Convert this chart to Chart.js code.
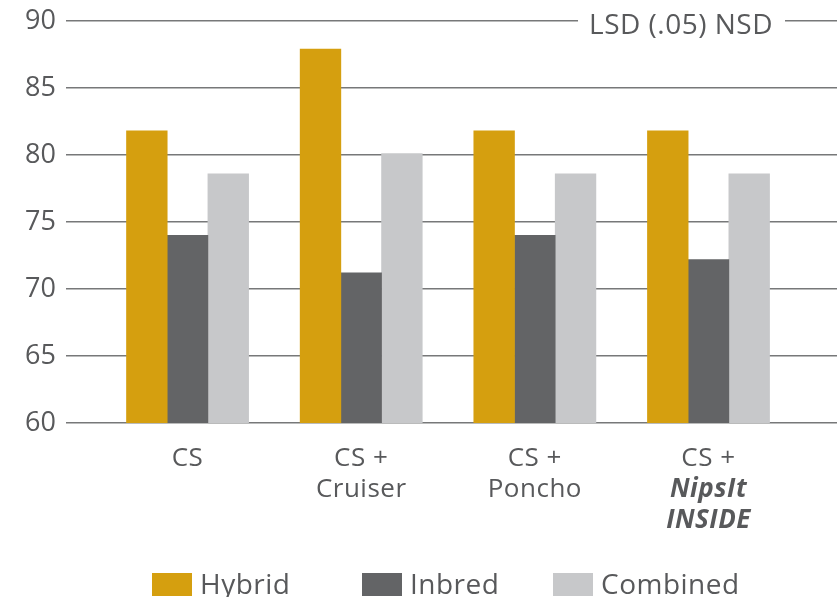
<!DOCTYPE html>
<html lang="en">
<head>
<meta charset="UTF-8">
<title>Hybrid / Inbred / Combined</title>
<script src="https://cdn.jsdelivr.net/npm/chart.js"></script>
<style>
  html, body { margin: 0; padding: 0; background: #fff; }
</style>
</head>
<body>
<canvas id="chart" width="837" height="597"></canvas>
<script>
// data
const categories = [['CS'], ['CS +', 'Cruiser'], ['CS +', 'Poncho'], ['CS +', 'NipsIt', 'INSIDE']];
const italicLines = ['NipsIt', 'INSIDE'];
const seriesNames = ['Hybrid', 'Inbred', 'Combined'];
const hybrid = [81.8, 87.9, 81.8, 81.8];
const inbred = [74.0, 71.2, 74.0, 72.2];
const combined = [78.6, 80.1, 78.6, 78.6];
const yMin = 60, yMax = 90, yStep = 5;
const note = 'LSD (.05) NSD';

const colors = ['#d59f0f', '#636466', '#c7c8ca'];
const TEXT = '#58595b';
const FAMILY = '"Open Sans", sans-serif';

const series = [hybrid, inbred, combined];

// draws the LSD note, the category labels and the legend
const extras = {
    id: 'extras',
    afterDraw(chart) {
        const ctx = chart.ctx;
        const x = chart.scales.x, y = chart.scales.y;
        const area = chart.chartArea;
        ctx.save();
        ctx.fillStyle = TEXT;

        // note on the top grid line
        ctx.font = '500 28px ' + FAMILY;
        ctx.letterSpacing = '0.5px';
        const w = ctx.measureText(note).width;
        const right = 773;
        const gy = y.getPixelForValue(yMax);
        ctx.fillStyle = '#fff';
        ctx.fillRect(right - w - 11, gy - 4, w + 23, 8);
        ctx.fillStyle = TEXT;
        ctx.textAlign = 'right';
        ctx.textBaseline = 'alphabetic';
        ctx.fillText(note, right, gy + 13);

        // category labels
        ctx.textAlign = 'center';
        categories.forEach((lines, i) => {
            const cx = x.getPixelForValue(i);
            lines.forEach((line, j) => {
                ctx.font = (italicLines.includes(line) ? 'italic bold ' : '500 ') + '26px ' + FAMILY;
                ctx.fillText(line, cx, area.bottom + 43 + j * 31);
            });
        });

        // legend
        const legendX = [152, 362, 553];
        ctx.textAlign = 'left';
        ctx.font = '500 28px ' + FAMILY;
        seriesNames.forEach((name, i) => {
            ctx.fillStyle = colors[i];
            ctx.fillRect(legendX[i], 573, 40, 23);
            ctx.fillStyle = TEXT;
            ctx.fillText(name, legendX[i] + 48, 594);
        });
        ctx.restore();
    }
};

const ctx = document.getElementById('chart').getContext('2d');
new Chart(ctx, {
    type: 'bar',
    data: {
        datasets: seriesNames.map((name, i) => ({
            label: name,
            data: series[i].map((v, k) => ({ x: k, y: v })),
            backgroundColor: colors[i],
            borderWidth: 0,
            barThickness: 40.7
        }))
    },
    options: {
        responsive: false,
        animation: false,
        devicePixelRatio: 1,
        layout: { padding: { top: 21, right: 0, bottom: 174, left: 0 } },
        plugins: {
            legend: { display: false },
            tooltip: { enabled: false }
        },
        scales: {
            x: {
                type: 'linear',
                min: -0.7,
                max: 3.74,
                offset: false,
                display: false,
                ticks: { stepSize: 1, includeBounds: false }
            },
            y: {
                min: yMin,
                max: yMax,
                afterFit(scale) {
                    scale.width = 66;
                    scale.paddingTop = 0;
                    scale.paddingBottom = 0;
                },
                ticks: {
                    stepSize: yStep,
                    color: TEXT,
                    padding: 10,
                    font: { family: FAMILY, size: 27, weight: '500' }
                },
                grid: { color: '#777879', lineWidth: 1.5, drawTicks: false },
                border: { display: false }
            }
        }
    },
    plugins: [extras]
});
</script>
</body>
</html>
